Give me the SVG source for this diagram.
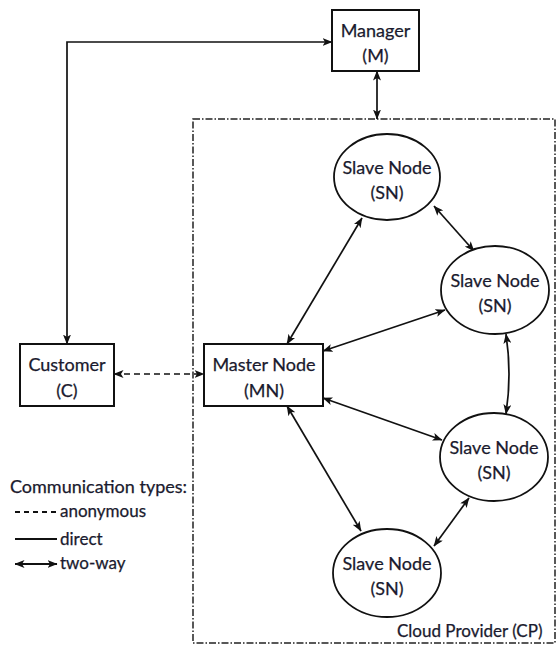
<svg xmlns="http://www.w3.org/2000/svg" width="557" height="646" viewBox="0 0 557 646">
<style>
  .box { fill: #fff; stroke: #111; stroke-width: 2; }
  .ell { fill: #fff; stroke: #111; stroke-width: 1.8; }
  .t { font-family: Lato, "Liberation Sans", sans-serif; font-size: 18px; fill: #1a1a2e; stroke: #1a1a2e; stroke-width: 0.25; text-anchor: middle; }
  .tl { font-family: Lato, "Liberation Sans", sans-serif; font-size: 17px; fill: #1a1a2e; stroke: #1a1a2e; stroke-width: 0.25; }
  .c { fill: none; stroke: #111; stroke-width: 1.7; }
  .two { marker-start: url(#ah); marker-end: url(#ah); }
  .dash { stroke-dasharray: 6 4; }
  .frame { fill: none; stroke: #222; stroke-width: 1.5; stroke-dasharray: 7 2 1.5 2; }
</style>
<defs>
  <marker id="ah" viewBox="0 0 10 8" refX="9.5" refY="4" markerWidth="10" markerHeight="8" markerUnits="userSpaceOnUse" orient="auto-start-reverse">
    <path d="M0,0 L10,4 L0,8 L2.5,4 Z" fill="#111"/>
  </marker>
</defs>

<g id="cloud-provider">
  <rect class="frame" x="193" y="119" width="362" height="524"/>
  <text class="tl" x="397" y="637">Cloud Provider (CP)</text>
</g>

<g id="connectors">
  <path class="c two" d="M67,344 L67,42 L332,42"/>
  <path class="c two" d="M377,71 L377,119"/>
  <path class="c two dash" d="M114,374 L204,374"/>
  <path class="c two" d="M287,344 L362,218"/>
  <path class="c two" d="M323,351 L445,310"/>
  <path class="c two" d="M323,398 L442,440"/>
  <path class="c two" d="M287,406 L361,531"/>
  <path class="c two" d="M434,206 L474,251"/>
  <path class="c two" d="M506,334 Q512,374 506,414"/>
  <path class="c two" d="M469,498 L434,546"/>
</g>

<g id="manager">
  <rect class="box" x="332" y="10" width="87" height="61"/>
  <text class="t" x="375.5" y="37">Manager</text>
  <text class="t" x="375.5" y="62">(M)</text>
</g>

<g id="customer">
  <rect class="box" x="20" y="344" width="94" height="62"/>
  <text class="t" x="67" y="371">Customer</text>
  <text class="t" x="67" y="397">(C)</text>
</g>

<g id="master-node">
  <rect class="box" x="204" y="344" width="119" height="62"/>
  <text class="t" x="264" y="371">Master Node</text>
  <text class="t" x="264" y="397">(MN)</text>
</g>

<g id="slave-node-1">
  <ellipse class="ell" cx="387" cy="177" rx="53" ry="43"/>
  <text class="t" x="387" y="174">Slave Node</text>
  <text class="t" x="387" y="199">(SN)</text>
</g>

<g id="slave-node-2">
  <ellipse class="ell" cx="495" cy="290" rx="54" ry="44"/>
  <text class="t" x="495" y="287">Slave Node</text>
  <text class="t" x="495" y="312">(SN)</text>
</g>

<g id="slave-node-3">
  <ellipse class="ell" cx="494" cy="457" rx="54" ry="44"/>
  <text class="t" x="494" y="454">Slave Node</text>
  <text class="t" x="494" y="479">(SN)</text>
</g>

<g id="slave-node-4">
  <ellipse class="ell" cx="387" cy="573" rx="54" ry="44"/>
  <text class="t" x="387" y="570">Slave Node</text>
  <text class="t" x="387" y="595">(SN)</text>
</g>

<g id="legend">
  <text class="tl" x="10" y="493" style="font-size:18px">Communication types:</text>
  <line class="c" x1="15" y1="512" x2="57" y2="512" style="stroke-dasharray:5 4; stroke-width:2"/>
  <text class="tl" x="60" y="517">anonymous</text>
  <line class="c" x1="15" y1="539" x2="57" y2="539" style="stroke-width:2"/>
  <text class="tl" x="60" y="545">direct</text>
  <line class="c two" x1="15" y1="564" x2="57" y2="564" style="stroke-width:2"/>
  <text class="tl" x="60" y="569">two-way</text>
</g>
</svg>
